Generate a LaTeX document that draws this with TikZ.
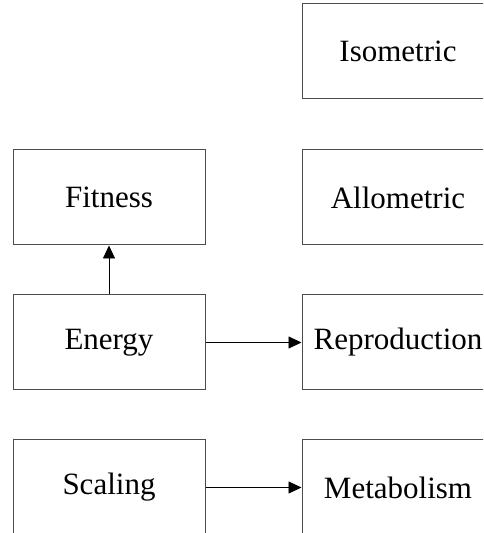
\documentclass[tikz,border=0pt]{standalone}
\usepackage{fontspec}
\setmainfont{Liberation Serif}
\usepackage{tikz}
\usetikzlibrary{positioning}
\usetikzlibrary{arrows.meta}
\tikzset{
box/.style={rectangle, draw=black!70, line width=1pt, minimum width=192pt, minimum height=95pt, inner sep=0pt, font=\fontsize{31}{37}\selectfont},
link/.style={-{Triangle[length=13pt,width=12pt]}, line width=0.8pt, color=black}
}

\begin{document}
\begin{tikzpicture}[x=1pt, y=1pt]
    \useasboundingbox (0,0) rectangle (483,533);
    \clip (0,0) rectangle (483,533);
    \node[box] (fitness) at (109,335.5) {Fitness};
    \node[box] (energy) [below=49pt of fitness] {Energy};
    \node[box] (scaling) [below=49pt of energy] {Scaling};

    \node[box] (allometric) [right=96pt of fitness] {Allometric};
    \node[box] (isometric) [above=50pt of allometric] {Isometric};
    \node[box] (reproduction) [right=96pt of energy] {Reproduction};
    \node[box] (metabolism) [right=96pt of scaling] {Metabolism};

    \draw[link] (energy) -- (fitness);
    \draw[link] (energy) -- (reproduction);
    \draw[link] (scaling) -- (metabolism);
\end{tikzpicture}
\end{document}
